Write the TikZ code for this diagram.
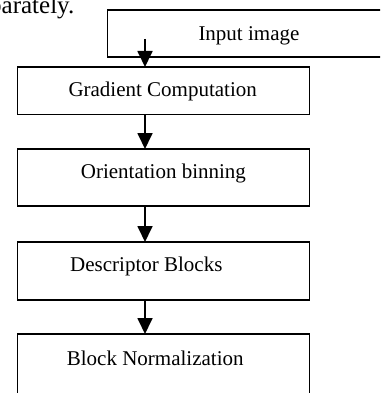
\documentclass[tikz,border=0pt]{standalone}
\usepackage{fontspec}
\setmainfont{Liberation Serif}
\usetikzlibrary{arrows.meta}
\begin{document}
\begin{tikzpicture}[x=1pt,y=-1pt,
  box/.style={draw,line width=1.8pt,inner sep=0pt,outer sep=0pt},
  lbl/.style={anchor=base west,inner sep=0pt,font=\fontsize{21}{25}\selectfont},
  arr/.style={line width=1.8pt,-{Triangle[length=16pt,width=15pt]}}]
\useasboundingbox (0,0) rectangle (380,393);
\clip (0,0) rectangle (380,393);
\node[anchor=base west,inner sep=0pt,font=\fontsize{25}{30}\selectfont] (body) at (-11,14) {parately.};
\node[box,minimum width=322.5pt,minimum height=47pt] (inp) at (268.75,33.5) {};
\node[box,minimum width=292pt,minimum height=47.5pt] (grad) at (163.5,90.75) {};
\node[box,minimum width=292pt,minimum height=57pt] (ori) at (163.5,177.5) {};
\node[box,minimum width=292pt,minimum height=58pt] (desc) at (163.5,271) {};
\node[box,minimum width=292pt,minimum height=86pt] (norm) at (163.5,377) {};
\node[lbl] (tinp) at (198.3,40.7) {Input image};
\node[lbl] (tgrad) at (68.3,96.7) {Gradient Computation};
\node[lbl] (tori) at (80.7,178.3) {Orientation binning};
\node[lbl] (tdesc) at (70,271.7) {Descriptor Blocks};
\node[lbl] (tnorm) at (66.7,365) {Block Normalization};
\coordinate (s0) at (145,39);
\draw[arr] (s0) -- (grad.north -| s0);
\draw[arr] (grad.south -| s0) -- (ori.north -| s0);
\draw[arr] (ori.south -| s0) -- (desc.north -| s0);
\draw[arr] (desc.south -| s0) -- (norm.north -| s0);
\end{tikzpicture}
\end{document}
